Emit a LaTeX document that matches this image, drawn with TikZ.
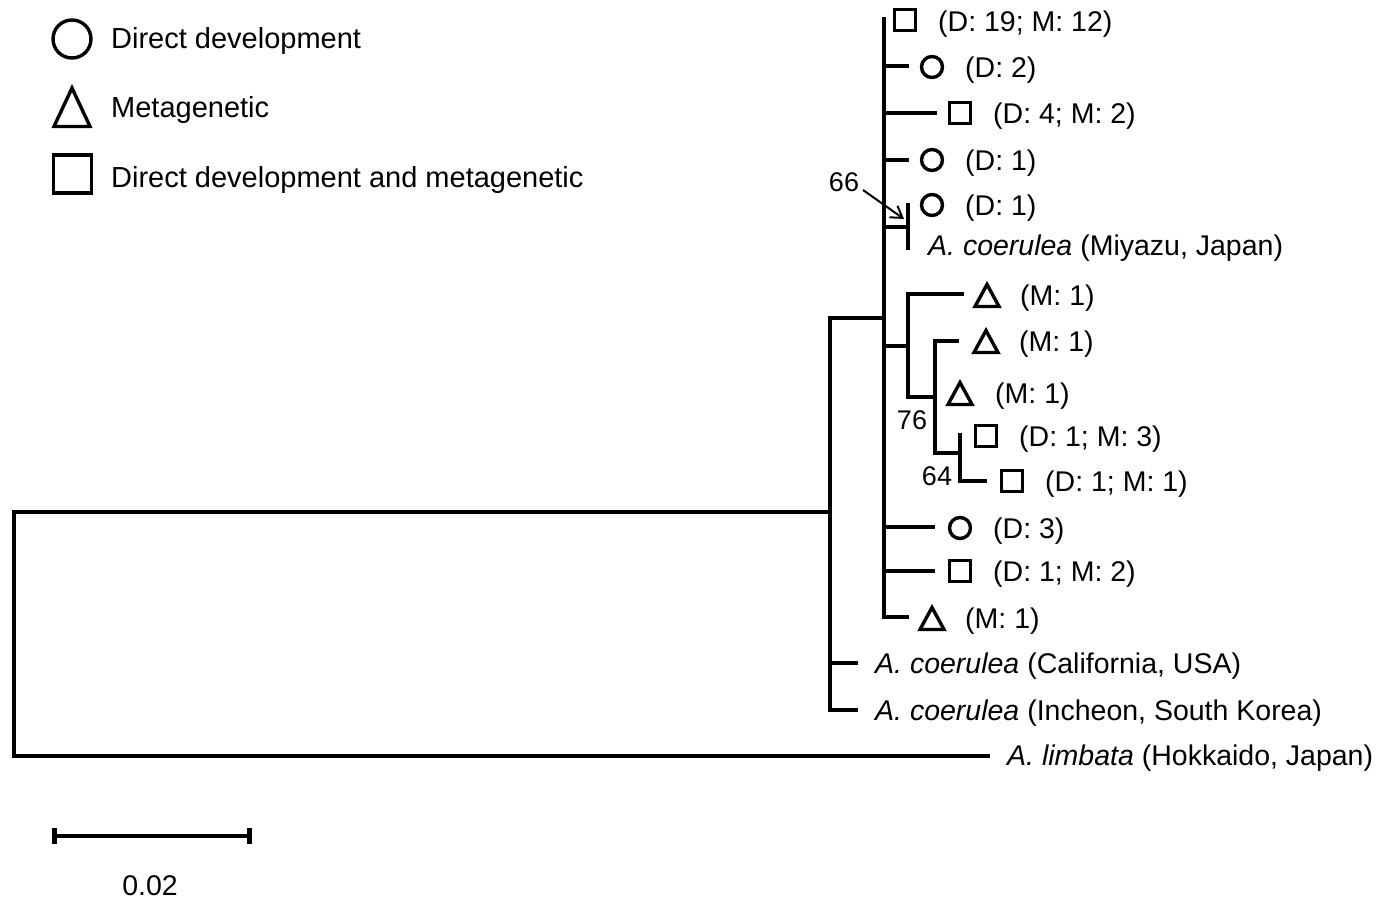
\documentclass[tikz,border=0pt]{standalone}
\usepackage{fontspec}
\setmainfont{Liberation Sans}
\usetikzlibrary{arrows.meta}
\begin{document}
\begin{tikzpicture}[x=1pt,y=-1pt,
  tree/.style={line width=4.6pt, line cap=rect},
  sym/.style={draw, line width=3.4pt, inner sep=0pt},
  circ/.style={sym, circle, minimum size=21pt},
  sqr/.style={sym, rectangle, minimum size=21pt},
  lab/.style={anchor=base west, inner sep=0pt, font=\fontsize{28.5pt}{34pt}\selectfont},
  leg/.style={anchor=base west, inner sep=0pt, font=\fontsize{29pt}{34pt}\selectfont},
  boot/.style={inner sep=0pt, font=\fontsize{27pt}{30pt}\selectfont},
  tri/.pic={\draw[line width=3.4pt, miter limit=10] (-12,11.5) -- (0,-10.5) -- (12,11.5) -- cycle;}
]
\useasboundingbox (0,0) rectangle (1400,900);

% ---------- legend ----------
\node[sym, circle, minimum size=38pt] (legC) at (72,39) {};
\draw[line width=3.4pt, miter limit=10] (54,126.5) -- (72,88) -- (90,126.5) -- cycle;
\node[sym, rectangle, minimum size=38pt] (legS) at (72.5,174) {};
\node[leg] (legCt) at (111,48) {Direct development};
\node[leg] (legTt) at (111,117.5) {Metagenetic};
\node[leg] (legSt) at (111,187) {Direct development and metagenetic};

% ---------- root ----------
\coordinate (rootT) at (14,512);
\coordinate (rootB) at (14,756);
\coordinate (nA) at (830,512);
\coordinate (limE) at (988,756);
\draw[tree] (nA) -- (rootT) -- (rootB) -- (limE);
\node[lab] (limL) at (1007,765.5) {\textit{A. limbata} (Hokkaido, Japan)};

% ---------- clade A ----------
\coordinate (aT) at (830,318);
\coordinate (aB) at (830,710);
\coordinate (nB) at (884,318);
\coordinate (calE) at (856,663);
\coordinate (incE) at (856,710);
\draw[tree] (nB) -- (aT) -- (aB) -- (incE);
\draw[tree] (aT |- calE) -- (calE);
\node[lab] (calL) at (875,673) {\textit{A. coerulea} (California, USA)};
\node[lab] (incL) at (875,720) {\textit{A. coerulea} (Incheon, South Korea)};

% ---------- clade B ----------
\coordinate (bT) at (884,19);
\coordinate (bB) at (884,617);
\coordinate (e9) at (907,617);
\coordinate (e2) at (907,66);
\coordinate (e3) at (935,113);
\coordinate (e4) at (907,160);
\coordinate (nM) at (908,227);
\coordinate (e7) at (933,527);
\coordinate (e8) at (933,571);
\draw[tree] (bT) -- (bB) -- (e9);
\draw[tree] (bT |- e2) -- (e2);
\draw[tree] (bT |- e3) -- (e3);
\draw[tree] (bT |- e4) -- (e4);
\draw[tree] (bT |- nM) -- (nM);
\draw[tree] (bT |- e7) -- (e7);
\draw[tree] (bT |- e8) -- (e8);

% Miyazu clade
\coordinate (mT) at (908,205);
\coordinate (mB) at (908,248);
\draw[tree] (mT) -- (mB);

% clade C
\coordinate (nC) at (908,346);
\coordinate (cT) at (908,294);
\coordinate (cB) at (908,397);
\coordinate (eC1) at (962,294);
\coordinate (nD) at (935,397);
\draw[tree] (bT |- nC) -- (nC);
\draw[tree] (eC1) -- (cT) -- (cB) -- (nD);

% clade D
\coordinate (dT) at (935,341);
\coordinate (dB) at (935,453);
\coordinate (eD1) at (957,341);
\coordinate (nE) at (960,453);
\draw[tree] (eD1) -- (dT) -- (dB) -- (nE);

% clade E
\coordinate (eT) at (960,435);
\coordinate (eB) at (960,481);
\coordinate (eE2) at (985,481);
\draw[tree] (eT) -- (eB) -- (eE2);

% ---------- leaves ----------
\node[sqr] (s1) at (905,20) {};
\node[lab] (l1) at (938,31) {(D: 19; M: 12)};
\node[circ] (s2) at (932,67) {};
\node[lab] (l2) at (965,77) {(D: 2)};
\node[sqr] (s3) at (960,113) {};
\node[lab] (l3) at (993,123) {(D: 4; M: 2)};
\node[circ] (s4) at (932,160) {};
\node[lab] (l4) at (965,170) {(D: 1)};
\node[circ] (s5) at (932,205) {};
\node[lab] (l5) at (965,215) {(D: 1)};
\node[lab] (l6) at (928,255) {\textit{A. coerulea} (Miyazu, Japan)};
\pic (s7) at (987,295) {tri};
\node[lab] (l7) at (1020,305) {(M: 1)};
\pic (s8) at (986,341) {tri};
\node[lab] (l8) at (1019,351) {(M: 1)};
\pic (s9) at (960,393) {tri};
\node[lab] (l9) at (995,403) {(M: 1)};
\node[sqr] (s10) at (986,436) {};
\node[lab] (l10) at (1019,446) {(D: 1; M: 3)};
\node[sqr] (s11) at (1012,481) {};
\node[lab] (l11) at (1045,491) {(D: 1; M: 1)};
\node[circ] (s12) at (960,528) {};
\node[lab] (l12) at (993,538) {(D: 3)};
\node[sqr] (s13) at (960,571) {};
\node[lab] (l13) at (993,581) {(D: 1; M: 2)};
\pic (s14) at (932,618) {tri};
\node[lab] (l14) at (965,628) {(M: 1)};

% ---------- support values ----------
\node[boot] (b66) at (844,182) {66};
\coordinate (a66s) at (863,190);
\coordinate (a66e) at (904,219);
\draw[line width=2pt, -{Straight Barb[length=11pt,width=14pt,line width=2pt]}] (a66s) -- (a66e);
\node[boot] (b76) at (912,420) {76};
\node[boot] (b64) at (937,476) {64};

% ---------- scale bar ----------
\coordinate (sbL) at (54,836);
\coordinate (sbR) at (249,836);
\draw[line width=4.6pt] (sbL) -- (sbR);
\draw[line width=5pt] ([yshift=8pt]sbL) -- ([yshift=-8pt]sbL);
\draw[line width=5pt] ([yshift=8pt]sbR) -- ([yshift=-8pt]sbR);
\node[lab, anchor=base] (sbT) at (150,895) {0.02};
\end{tikzpicture}
\end{document}
